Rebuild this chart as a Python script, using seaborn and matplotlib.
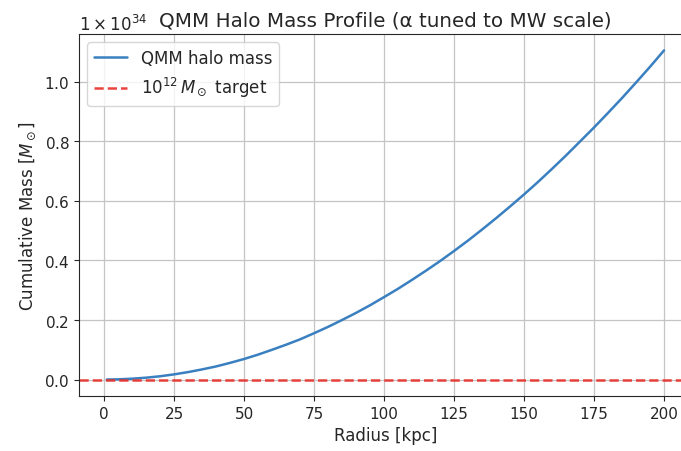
import matplotlib
matplotlib.use("Agg")
import matplotlib.pyplot as plt
from matplotlib.ticker import ScalarFormatter
import seaborn as sns
import pandas as pd

# Radius samples [kpc] and enclosed halo mass [units of 1e34 M_sun]
radius_kpc = [1, 5, 10, 15, 20, 25, 30, 35, 40, 45, 50, 55, 60, 65, 70, 75, 80, 85, 90, 95, 100,
              105, 110, 115, 120, 125, 130, 135, 140, 145, 150, 155, 160, 165, 170, 175, 180,
              185, 190, 195, 200]
mass_1e34 = [0.0000, 0.0007, 0.0028, 0.0062, 0.011, 0.0173, 0.025, 0.034, 0.044, 0.056, 0.069,
             0.0837, 0.100, 0.117, 0.135, 0.1556, 0.177, 0.200, 0.224, 0.2496, 0.277,
             0.305, 0.335, 0.366, 0.398, 0.432, 0.467, 0.504, 0.542, 0.5815, 0.622,
             0.664, 0.708, 0.753, 0.800, 0.847, 0.896, 0.946, 0.998, 1.051, 1.106]
target_mass = 1e12
scale = 1e34

df = pd.DataFrame({"radius": radius_kpc,
                   "mass": [m * scale for m in mass_1e34]})


class LeadingOneFormatter(ScalarFormatter):
    """Scientific formatter whose offset reads '1×10^n'."""
    def get_offset(self):
        s = super().get_offset()
        return s.replace(r"\times", r"1\times", 1)


sns.set_style("ticks")
plt.rcParams["font.family"] = ["DejaVu Sans"]

fig = plt.figure(figsize=(6.81, 4.52), dpi=100)
ax = fig.add_axes([0.116, 0.1217, 0.9, 0.801])

sns.lineplot(data=df, x="radius", y="mass", ax=ax, color="#3a80c0",
             linewidth=1.8, label="QMM halo mass")
ax.axhline(target_mass, color="#e8302a", linestyle="--", linewidth=1.8,
           alpha=0.9, label=r"$10^{12}\,M_\odot$ target")

fmt = LeadingOneFormatter(useMathText=True)
fmt.set_powerlimits((0, 0))
ax.yaxis.set_major_formatter(fmt)
ax.yaxis.get_offset_text().set_fontsize(12)

ax.set_xlabel("Radius [kpc]", fontsize=12)
ax.set_ylabel(r"Cumulative Mass [$M_\odot$]", fontsize=12)
ax.set_title("QMM Halo Mass Profile (α tuned to MW scale)", fontsize=14.3)
ax.tick_params(labelsize=11)
ax.grid(True, color="#c4c4c4", linewidth=0.9)
ax.legend(loc="upper left", fontsize=12, framealpha=0.8)

fig.savefig("out.png", dpi=100)
